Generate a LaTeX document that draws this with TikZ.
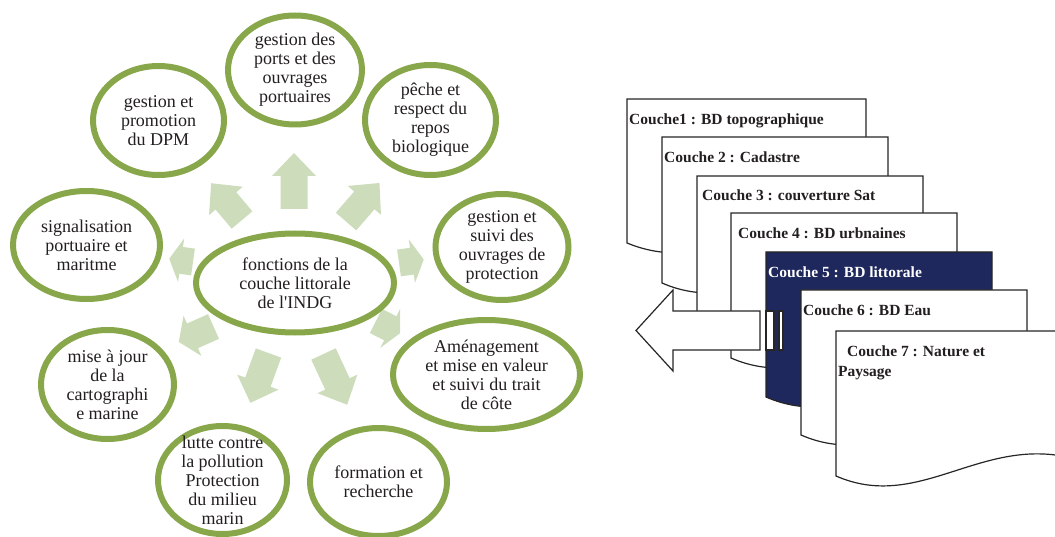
\documentclass[tikz,border=0pt]{standalone}
\usepackage{fontspec}
\setmainfont{Liberation Serif}
\usetikzlibrary{shapes.geometric}
\definecolor{ringgreen}{RGB}{136,166,74}
\definecolor{arrowgreen}{RGB}{205,221,188}
\definecolor{inkgray}{RGB}{35,31,32}
\definecolor{navyfill}{RGB}{31,40,92}
\newcommand{\greenarrow}[5]{\fill[arrowgreen, shift={(#1,#2)}, rotate=#3] (0,-13.5) -- ({#4-#5},-13.5) -- ({#4-#5},-22) -- (#4,0) -- ({#4-#5},22) -- ({#4-#5},13.5) -- (0,13.5) -- cycle;}
\newcommand{\docpage}[5]{\begin{scope}[shift={(#1,#2)}]
\draw[pageline, fill=#5] (0,0) -- (#3,0) -- (#3,{#4-20}) .. controls ({0.62*#3},{#4-35}) and ({0.354*#3},{#4+35}) .. (0,#4) -- cycle;
\end{scope}}
\tikzset{
  ring/.style={ellipse, draw=ringgreen, line width=6pt, fill=white, inner sep=0pt},
  ringtext/.style={align=center, text=inkgray, font=\fontsize{18}{19}\selectfont, inner sep=0pt},
  pagetext/.style={anchor=base west, font=\bfseries\fontsize{15.5}{18}\selectfont, inner sep=0pt, text=inkgray},
  pageline/.style={draw=black!85, line width=1.2pt, line join=miter},
}
\begin{document}
\begin{tikzpicture}[x=1pt,y=-1pt]
\useasboundingbox (0,0) rectangle (1055,537);
\clip (0,0) rectangle (1055,537);
% radial arrows
\greenarrow{294}{209}{90}{56}{23}
\greenarrow{242}{220}{130}{48}{23}
\greenarrow{346}{221.5}{49}{51}{23}
\greenarrow{193}{262}{172}{24}{12}
\greenarrow{399}{263}{8}{25}{12}
\greenarrow{213.5}{326.5}{204}{38}{15}
\greenarrow{376}{321}{-27}{27}{11}
\greenarrow{268.5}{353}{-110}{53}{22}
\greenarrow{323.5}{354}{-65}{56}{23}
% ellipses
\node[ring, minimum width=198pt, minimum height=99pt] (center) at (295,283) {};
\node[ringtext] (tcenter) at (center.center) {fonctions de la\\couche littorale\\de l\textquotesingle INDG};
\node[ring, minimum width=134pt, minimum height=109pt] (ports) at (295,70) {};
\node[ringtext] (tports) at (ports.center) {gestion des\\ports et des\\ouvrages\\portuaires};
\node[ring, minimum width=131pt, minimum height=109pt] (dpm) at (158.5,120.5) {};
\node[ringtext] (tdpm) at (dpm.center) {gestion et\\promotion\\du DPM};
\node[ring, minimum width=131pt, minimum height=110pt] (peche) at (430.5,120) {};
\node[ringtext] (tpeche) at (peche.center) {pêche et\\respect du\\repos\\biologique};
\node[ring, minimum width=147pt, minimum height=108pt] (signal) at (86.5,245) {};
\node[ringtext] (tsignal) at (signal.center) {signalisation\\portuaire et\\maritme};
\node[ring, minimum width=133pt, minimum height=106pt] (suivi) at (502,247) {};
\node[ringtext] (tsuivi) at (suivi.center) {gestion et\\suivi des\\ouvrages de\\protection};
\node[ring, minimum width=187pt, minimum height=109pt] (amen) at (486.5,374.5) {};
\node[ringtext] (tamen) at (amen.center) {Aménagement\\et mise en valeur\\et suivi du trait\\de côte};
\node[ring, minimum width=133pt, minimum height=109pt] (carto) at (107.5,384.5) {};
\node[ringtext] (tcarto) at (carto.center) {mise à jour\\de la\\cartographi\\e marine};
\node[ring, minimum width=129pt, minimum height=108pt] (lutte) at (222.5,480) {};
\node[ringtext] (tlutte) at (lutte.center) {lutte contre\\la pollution\\Protection\\du milieu\\marin};
\node[ring, minimum width=137pt, minimum height=108pt] (form) at (378.5,482) {};
\node[ringtext] (tform) at (form.center) {formation et\\recherche};
% layered pages
\docpage{627}{99}{239}{144}{white}
\node[pagetext] (c1) at (629,125) {Couche1 : BD topographique};
\docpage{662}{137}{226}{146}{white}
\node[pagetext] (c2) at (664,163) {Couche 2 : Cadastre};
\docpage{697}{176}{226}{145}{white}
\node[pagetext] (c3) at (702,201) {Couche 3 : couverture Sat};
\docpage{731}{213}{226}{145}{white}
\node[pagetext] (c4) at (738,239) {Couche 4 : BD urbnaines};
\docpage{766}{252}{226}{145}{navyfill}
\node[pagetext, text=white] (c5) at (768,278) {Couche 5 : BD littorale};
% big outline arrow
\draw[pageline, fill=white] (760,311) -- (673,311) -- (673,290) -- (636,330.5) -- (673,371) -- (673,350) -- (760,350) -- cycle;
\draw[pageline, fill=white] (766,311) rectangle (774,350);
\draw[pageline, fill=white] (779,311) rectangle (783,350);
\docpage{801}{290}{226}{145}{white}
\node[pagetext] (c6) at (803,316) {Couche 6 : BD Eau};
\docpage{836}{331}{226}{145}{white}
\node[pagetext] (c7a) at (847,356) {Couche 7 : Nature et};
\node[pagetext] (c7b) at (838,377) {Paysage};
\end{tikzpicture}
\end{document}
